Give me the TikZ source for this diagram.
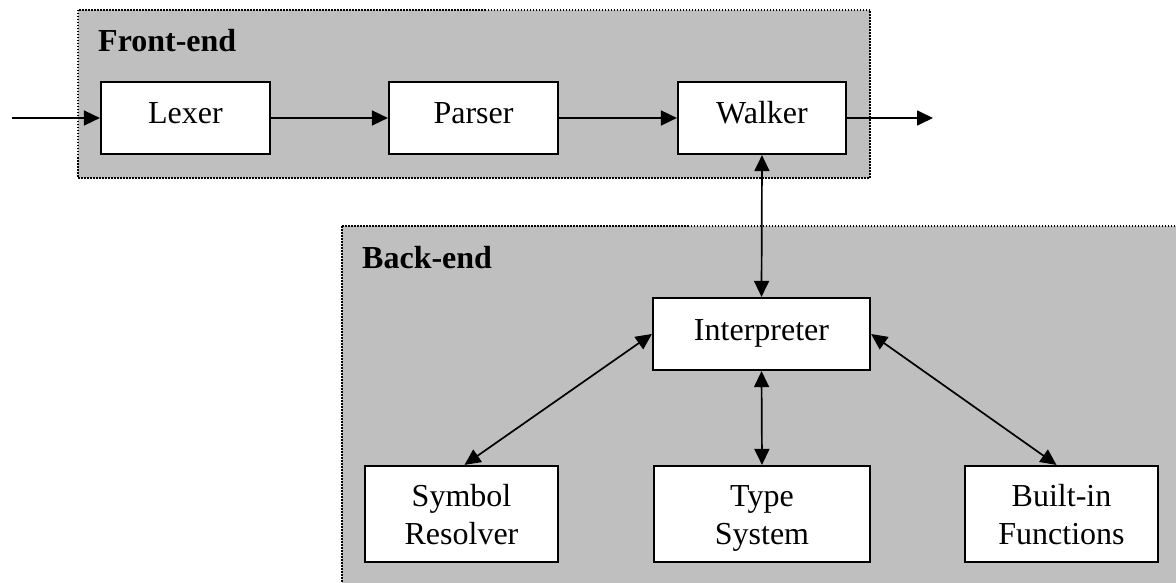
\documentclass[tikz,border=0pt]{standalone}
\usepackage{fontspec}
\setmainfont{Liberation Serif}
\usetikzlibrary{arrows.meta}
\begin{document}
\begin{tikzpicture}[x=1pt,y=-1pt,
  every node/.style={font=\fontsize{32}{38}\selectfont},
  group/.style={fill=black!25, draw=black, line width=1.5pt, dash pattern=on 1.5pt off 1.5pt},
  grouplabel/.style={anchor=base west, inner sep=0pt, font=\fontsize{32}{38}\selectfont\bfseries},
  block/.style={draw=black, fill=white, line width=2.2pt, inner sep=0pt, text height=22pt, text depth=10pt},
  multiblock/.style={draw=black, fill=white, line width=2.2pt, inner sep=0pt, align=center, text height=60pt, text depth=0pt},
  flow/.style={line width=1.7pt, -{Triangle[length=16pt,width=15pt]}},
  biflow/.style={line width=1.7pt, {Triangle[length=16pt,width=15pt]}-{Triangle[length=16pt,width=15pt]}}
]
\useasboundingbox (0,0) rectangle (1176,583);
\clip (0,0) rectangle (1176,583);
\fill[white] (0,0) rectangle (1176,583);

% group backgrounds
\draw[group] (78,10) rectangle (870,178);
\draw[group] (342,226) rectangle (1200,620);
\node[grouplabel] (fe) at (98,52) {Front-end};
\node[grouplabel] (be) at (362,268) {Back-end};

% front-end blocks
\node[block, minimum width=169pt, minimum height=72pt] (lexer) at (185.5,118) {Lexer};
\node[block, minimum width=169pt, minimum height=72pt] (parser) at (473.5,118) {Parser};
\node[block, minimum width=168pt, minimum height=72pt] (walker) at (762,118) {Walker};

% back-end blocks
\node[block, minimum width=217pt, minimum height=72pt] (interp) at (761.5,334) {Interpreter};
\node[multiblock, minimum width=193pt, minimum height=96pt] (sym) at (461.5,514) {Symbol\\Resolver};
\node[multiblock, minimum width=216pt, minimum height=96pt] (type) at (762,514) {Type\\System};
\node[multiblock, minimum width=193pt, minimum height=96pt] (bif) at (1061.5,514) {Built-in\\Functions};

\coordinate (in) at (12,118);
\coordinate (out) at (933,118);

% connectors
\draw[flow] (in) -- (lexer.west);
\draw[flow] (lexer.east) -- (parser.west);
\draw[flow] (parser.east) -- (walker.west);
\draw[flow] (walker.east) -- (out);
\draw[biflow] (walker.south) -- (interp.north);
\draw[biflow] (interp.south) -- (type.north);
\draw[biflow] (interp.west) -- ([xshift=3pt]sym.north);
\draw[biflow] (interp.east) -- ([xshift=-5pt]bif.north);
\end{tikzpicture}
\end{document}
